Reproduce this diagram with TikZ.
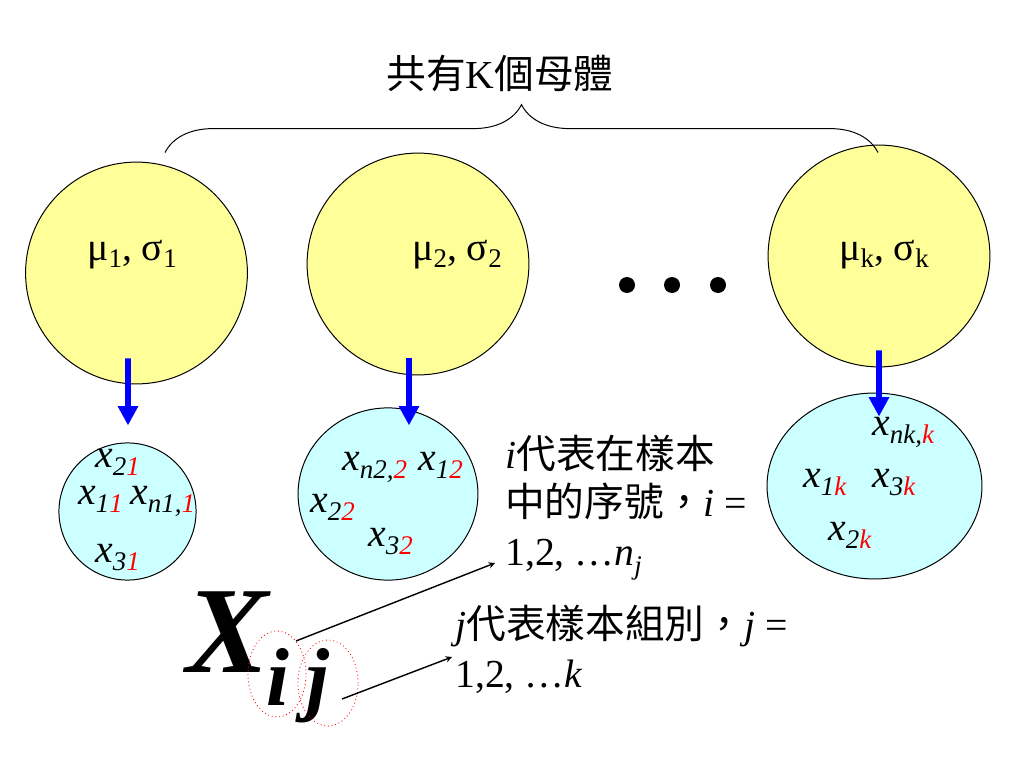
\documentclass[tikz,border=0pt]{standalone}
\usepackage{fontspec}
\setmainfont{Liberation Serif}
\newfontfamily\cjk{Noto Sans CJK TC}
\usepackage{xcolor}
\usetikzlibrary{shapes.geometric,arrows.meta,decorations.pathreplacing}
\definecolor{popyellow}{RGB}{255,255,153}
\definecolor{sampcyan}{RGB}{204,255,255}
% observation x with black and red subscript
\newcommand{\obs}[2]{\textit{x}\raisebox{-0.22em}{\fontsize{19}{19}\selectfont\textit{#1}\textcolor{red}{\textit{#2}}}}
\newcommand{\para}[2]{#1\raisebox{-0.18em}{\fontsize{19}{19}\selectfont #2}}
\tikzset{
  pop/.style={circle,draw,line width=0.7pt,fill=popyellow,minimum size=5.5cm},
  samp/.style={ellipse,draw,line width=0.7pt,fill=sampcyan},
  flow/.style={draw=blue,line width=4.2pt,-{Triangle[width=0.48cm,length=0.48cm]}},
  pick/.style={ellipse,draw=red,dotted,line width=0.6pt}
}

\begin{document}
\begin{tikzpicture}[x=0.0248cm,y=-0.0248cm,
  every node/.style={font=\fontsize{28}{34}\selectfont,inner sep=0pt}]
  \useasboundingbox (0,0) rectangle (1024,768);
  % populations
  \node[pop] (pop1) at (136.5,273) {};
  \node[pop] (pop2) at (418,264) {};
  \node[pop] (popk) at (879,256) {};
  % samples
  \node[samp,minimum width=3.4cm,minimum height=3.4cm] (samp1) at (127.5,511.5) {};
  \node[samp,minimum width=4.46cm,minimum height=4.27cm] (samp2) at (388,494) {};
  \node[samp,minimum width=5.33cm,minimum height=4.61cm] (sampk) at (874.5,486) {};
  \draw[line width=0.7pt,decorate,decoration={brace,amplitude=1.19cm}]
    ([shift={(28.5,-9)}]pop1.north) -- ([shift={(-1,8)}]popk.north);
  \node[anchor=base] (title) at (500,89) {{\cjk 共有}K{\cjk 個母體}};
  \draw[flow] ([shift={(-8.5,-26)}]pop1.south) -- ([shift={(0.5,-17)}]samp1.north);
  \draw[flow] ([shift={(-9,-17)}]pop2.south) -- ([shift={(21,18)}]samp2.north);
  \draw[flow] ([shift={(0,-17)}]popk.south) -- ([shift={(4.5,24)}]sampk.north);
  \foreach \x in {627,672,718}
    \fill (\x,285) circle (8);
  \node[anchor=base west] (par1) at (87,260) {\para{μ}{1}, \para{σ}{1}};
  \node[anchor=base west] (par2) at (412,260) {\para{μ}{2}, \para{σ}{2}};
  \node[anchor=base west] (park) at (839,260) {\para{μ}{k}, \para{σ}{k}};
  % sample values
  \node[anchor=base west] (o21) at (95,467) {\obs{2}{1}};
  \node[anchor=base west] (o11) at (78,504) {\obs{1}{1}};
  \node[anchor=base west] (on1) at (130,504) {\obs{n1,}{1}};
  \node[anchor=base west] (o31) at (95,562) {\obs{3}{1}};
  \node[anchor=base west] (on2) at (342,470) {\obs{n2,}{2}};
  \node[anchor=base west] (o12) at (418,470) {\obs{1}{2}};
  \node[anchor=base west] (o22) at (310,512) {\obs{2}{2}};
  \node[anchor=base west] (o32) at (368,546) {\obs{3}{2}};
  \node[anchor=base west] (onk) at (872,435) {\obs{nk,}{k}};
  \node[anchor=base west] (o1k) at (803,487) {\obs{1}{k}};
  \node[anchor=base west] (o3k) at (872,487) {\obs{3}{k}};
  \node[anchor=base west] (o2k) at (828,540) {\obs{2}{k}};
  % notes (base = last line)
  \node[anchor=base west,align=left] (iNote) at (505,565)
    {\textit{i}{\cjk 代表在樣本}\\{\cjk 中的序號，}\textit{i} =\\1,2, …\textit{n}\raisebox{-0.25em}{\fontsize{19}{19}\selectfont\textit{j}}};
  \node[anchor=base west,align=left] (jNote) at (455,687)
    {\textit{j}{\cjk 代表樣本組別，}\textit{j} =\\1,2, …\textit{k}};
  % X_ij
  \node[anchor=base west,font=\fontsize{87}{87}\selectfont\bfseries\itshape] (bigX) at (186,672) {X};
  \node[anchor=base west,font=\fontsize{58}{58}\selectfont\bfseries\itshape] (subi) at (266,705) {i};
  \node[anchor=base west,font=\fontsize{58}{58}\selectfont\bfseries\itshape] (subj) at (306,705) {j};
  \node[pick,minimum width=1.44cm,minimum height=2.13cm] (ci) at (277,674) {};
  \node[pick,minimum width=1.49cm,minimum height=2.13cm] (cj) at (328,683) {};
  \coordinate (tipI) at (495,563);
  \coordinate (tipJ) at (452,657);
  \draw[line width=1pt,-stealth] (ci.60) -- (tipI);
  \draw[line width=1pt,-stealth] ([shift={(14,16)}]cj.center) -- (tipJ);
\end{tikzpicture}
\end{document}
